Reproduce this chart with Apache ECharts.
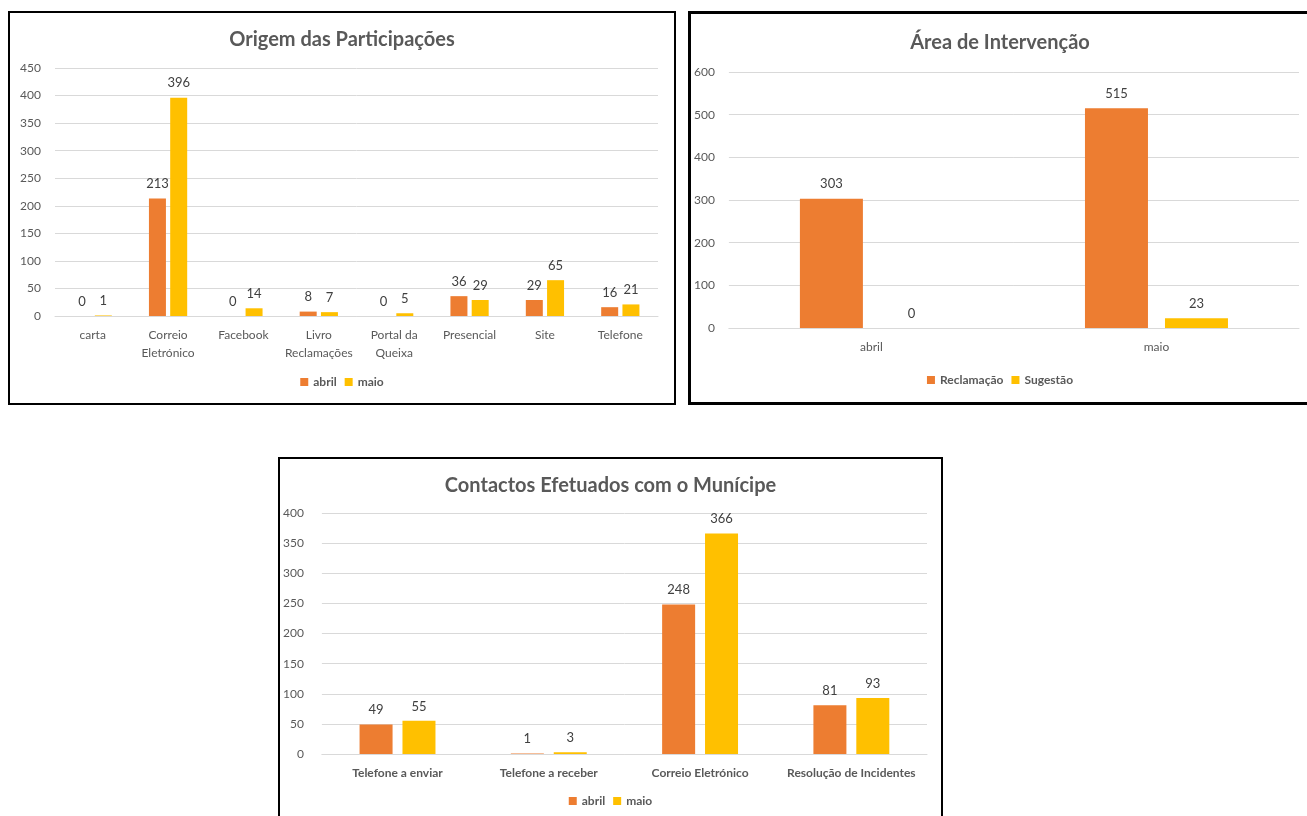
<!DOCTYPE html>
<html>
<head>
<meta charset="utf-8">
<script src="https://cdn.jsdelivr.net/npm/echarts@6/dist/echarts.min.js"></script>
<style>
  html,body{margin:0;padding:0;background:#fff;width:1307px;height:816px;overflow:hidden;position:relative;}
  .box{position:absolute;border:2px solid #000;background:#fff;box-sizing:border-box;}
</style>
</head>
<body>
<div id="c1" class="box" style="left:8px;top:11px;width:668px;height:394px;"></div>
<div id="c2" class="box" style="left:688px;top:11px;width:624px;height:394px;border-width:3px;"></div>
<div id="c3" class="box" style="left:278px;top:457px;width:665px;height:372px;"></div>
<script>
// chart 1 - origem das participacoes
var origemCats = ['carta', 'Correio\nEletrónico', 'Facebook', 'Livro\nReclamações', 'Portal da\nQueixa', 'Presencial', 'Site', 'Telefone'];
var origemAbril = [0, 213, 0, 8, 0, 36, 29, 16];
var origemMaio = [1, 396, 14, 7, 5, 29, 65, 21];

// chart 2 - area de intervencao
var areaCats = ['abril', 'maio'];
var areaReclamacao = [303, 515];
var areaSugestao = [0, 23];

// chart 3 - contactos efetuados
var contactosCats = ['Telefone a enviar', 'Telefone a receber', 'Correio Eletrónico', 'Resolução de Incidentes'];
var contactosAbril = [49, 1, 248, 81];
var contactosMaio = [55, 3, 366, 93];

var ORANGE = '#ED7D31', GOLD = '#FFC000';
var FONT = 'Lato';

function barChart(el, o){
    var chart = echarts.init(document.getElementById(el));
    chart.setOption({
        animation:false,
        textStyle:{fontFamily:FONT},
        title:{text:o.title,left:'center',top:o.titleTop,
            textStyle:{fontFamily:FONT,fontSize:20,fontWeight:'bold',color:'#595959'}},
        legend:{data:o.names,top:o.legendTop,left:'center',itemWidth:8,itemHeight:8,itemGap:8,icon:'rect',
            textStyle:{fontFamily:FONT,fontSize:12,color:'#595959',fontWeight:'bold'}},
        grid:o.grid,
        xAxis:{type:'category',data:o.cats,
            axisLine:{lineStyle:{color:'#D9D9D9'}},axisTick:{show:false},
            axisLabel:{color:'#595959',fontSize:12,margin:10,lineHeight:18,interval:0,fontWeight:o.catBold?'bold':'normal'}},
        yAxis:{type:'value',min:0,max:o.max,interval:o.interval,
            axisLine:{show:false},axisTick:{show:false},
            axisLabel:{color:'#595959',fontSize:12,margin:o.yMargin},
            splitLine:{lineStyle:{color:'#D9D9D9'}}},
        series:[
            {name:o.names[0],type:'bar',data:o.a,itemStyle:{color:ORANGE},barWidth:o.barWidth,barGap:o.barGap,
                label:{show:true,position:'top',color:'#404040',fontSize:13,distance:8}},
            {name:o.names[1],type:'bar',data:o.b,itemStyle:{color:GOLD},barWidth:o.barWidth,barGap:o.barGap,
                label:{show:true,position:'top',color:'#404040',fontSize:13,distance:8}}
        ]
    });
}

barChart('c1',{
    title:'Origem das Participações',titleTop:12,legendTop:358,
    names:['abril','maio'],cats:origemCats,a:origemAbril,b:origemMaio,
    grid:{left:45,right:16,top:55,bottom:87},
    max:450,interval:50,barWidth:17,barGap:'25%',yMargin:14
});
barChart('c2',{
    title:'Área de Intervenção',titleTop:14,legendTop:355,
    names:['Reclamação','Sugestão'],cats:areaCats,a:areaReclamacao,b:areaSugestao,
    grid:{left:35,right:10,top:58,bottom:74},
    max:600,interval:100,barWidth:63,barGap:'27%',yMargin:14
});
barChart('c3',{
    title:'Contactos Efetuados com o Munícipe',titleTop:12,legendTop:331,catBold:true,
    names:['abril','maio'],cats:contactosCats,a:contactosAbril,b:contactosMaio,
    grid:{left:38,right:14,top:54,bottom:73},
    max:400,interval:50,barWidth:33,barGap:'30%',yMargin:18
});
</script>
</body>
</html>
